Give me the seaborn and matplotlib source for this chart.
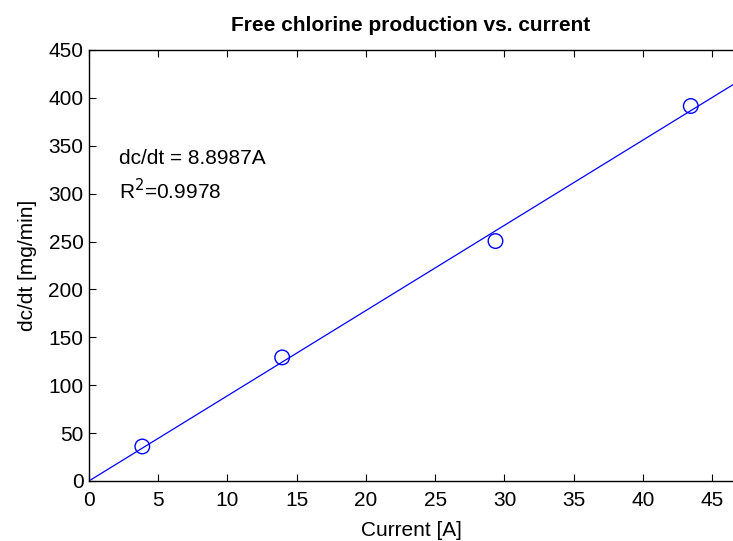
import numpy as np
import matplotlib
matplotlib.use("Agg")
import matplotlib.pyplot as plt
import seaborn as sns
import pandas as pd

# measured points
current = [3.85, 13.95, 29.35, 43.45]
dcdt = [36, 129, 250.5, 391.5]

# linear fit through the origin
slope = 8.8987
r2 = 0.9978
x_fit = [0, 46.5]

x_ticks = [0, 5, 10, 15, 20, 25, 30, 35, 40, 45]
y_ticks = [0, 50, 100, 150, 200, 250, 300, 350, 400, 450]

df = pd.DataFrame({"current": current, "dcdt": dcdt})
fit = pd.DataFrame({"current": x_fit, "dcdt": [slope * v for v in x_fit]})

sns.set_style("white")
plt.rcParams['font.family'] = ['Liberation Sans', 'DejaVu Sans']
plt.rcParams.update({"text.color": "black", "axes.labelcolor": "black",
                     "xtick.color": "black", "ytick.color": "black"})

fig = plt.figure(figsize=(7.33, 5.41), dpi=100)
ax = fig.add_axes([0.1214, 0.111, 0.8786, 0.7966])

sns.lineplot(data=fit, x="current", y="dcdt", color="blue", linewidth=0.9, ax=ax)
sns.scatterplot(data=df, x="current", y="dcdt", s=110, facecolor="none",
                edgecolor="blue", linewidth=1.0, marker="o", ax=ax, zorder=3)

ax.set_xlim(0, 46.5)
ax.set_ylim(0, 450)
ax.set_xticks(x_ticks)
ax.set_yticks(y_ticks)
ax.tick_params(direction="in", length=5, width=0.8, labelsize=15, color="black",
               top=True, right=False, left=True, bottom=True, pad=4)
ax.tick_params(axis="x", pad=7)
for side in ["left", "bottom", "top"]:
    ax.spines[side].set_color("black")
    ax.spines[side].set_linewidth(1.0)
ax.spines["right"].set_visible(False)

ax.set_xlabel("Current [A]", fontsize=15, labelpad=8)
ax.set_ylabel("dc/dt [mg/min]", fontsize=15, labelpad=8)
ax.set_title("Free chlorine production vs. current", fontsize=15, fontweight="bold", pad=14)

ax.text(2.2, 337, f"dc/dt = {slope}A", fontsize=15, va="center", ha="left")
ax.text(2.2, 303, "R$^2$=" + f"{r2}", fontsize=15, va="center", ha="left")

fig.savefig("out.png", dpi=100)
